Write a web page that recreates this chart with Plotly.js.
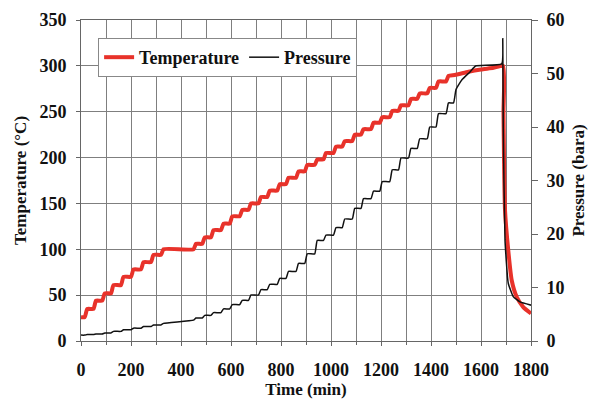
<!DOCTYPE html>
<html>
<head>
<meta charset="utf-8">
<script src="https://cdn.plot.ly/plotly-3.0.1.min.js"></script>
<style>html,body{margin:0;padding:0;background:#fff;}#chart{width:593px;height:401px;}</style>
</head>
<body>
<div id="chart"></div>
<script>
// Temperature (°C) vs time (min) (staircase knees)
var tempTime = [0,15,25,50,60,85,95,120,130,160,170,200,210,240,250,280,290,320,330,450,
  460,485,495,520,530,560,570,595,605,635,645,670,680,710,720,745,755,785,795,820,830,860,
  870,895,905,935,945,970,980,1010,1020,1045,1055,1085,1095,1120,1130,1160,1170,1195,1205,1235,
  1245,1270,1280,1310,1320,1345,1355,1385,1395,1420,1430,1460,1470,1495,1550,1600,1650,1688,
  1690,1692,1696,1709,1723,1743,1769,1800];
var tempValue = [26,26,35,35,44,44,52,52,61,61,70,70,78,78,86,86,94,94,100,100,
  106,106,113,113,121,121,128,128,136,136,143,143,150,150,157,157,164,164,171,171,178,178,
  185,185,192,192,198,198,205,205,212,212,218,218,225,225,231,231,238,238,244,244,
  251,251,257,257,264,264,270,270,276,276,283,283,289,290,293.5,296,298,300,
  250,200,143,99,66,48,37,30];

// Pressure (bara) vs time (min)
var presTime = [0,15,25,50,60,85,95,120,130,160,170,200,210,240,250,280,290,320,330,450,
  460,485,495,520,530,560,570,595,605,635,645,670,680,710,720,745,755,785,795,820,830,860,
  870,895,905,935,945,970,980,1010,1020,1045,1055,1085,1095,1120,1130,1160,1170,1195,1205,1235,
  1245,1270,1280,1310,1320,1345,1355,1385,1395,1420,1430,1460,1470,1490,1500,1523,1556,1578,1683,
  1687,1689,1696,1709,1729,1756,1800];
var presValue = [1.1,1.1,1.2,1.2,1.3,1.3,1.5,1.5,1.8,1.8,2.1,2.1,2.4,2.4,2.7,2.7,3.0,3.0,3.3,3.9,
  4.3,4.3,4.8,4.8,5.3,5.3,6.0,6.0,6.8,6.8,7.6,7.6,8.6,8.6,9.6,9.6,10.6,10.6,11.7,11.7,13.0,13.0,
  14.5,14.5,16.3,16.3,18.8,18.8,19.8,19.8,21.2,21.2,22.8,22.8,24.8,24.8,26.6,26.6,28.0,28.0,29.8,29.8,
  32.0,32.0,34.2,34.2,36.0,36.0,37.8,37.8,40.0,40.0,42.5,42.5,44.5,44.5,47.0,48.8,50.3,51.4,51.8,
  56.5,40,18.9,10.8,8.3,7.3,6.7];

var xTicks = [0,200,400,600,800,1000,1200,1400,1600,1800];

var font = 'Liberation Serif, Times New Roman, serif';
var traces = [
  {x: tempTime, y: tempValue, type: 'scatter', mode: 'lines', name: 'Temperature',
   line: {color: '#e8322a', width: 4, shape: 'spline', smoothing: 0.5}, yaxis: 'y'},
  {x: presTime, y: presValue, type: 'scatter', mode: 'lines', name: 'Pressure',
   line: {color: '#111111', width: 1.5, shape: 'spline', smoothing: 0.4}, yaxis: 'y2'}
];
var layout = {
  width: 593, height: 401,
  margin: {l: 81, r: 62, t: 20, b: 60},
  paper_bgcolor: '#fff', plot_bgcolor: '#fff',
  font: {family: font, size: 18, color: '#111'},
  showlegend: true,
  legend: {orientation: 'h', x: 0.038, y: 0.944, xanchor: 'left', yanchor: 'top',
    bgcolor: '#fff', bordercolor: '#888', borderwidth: 1,
    font: {family: font, size: 18, weight: 'bold', color: '#111'}},
  xaxis: {range: [0, 1800], tickvals: xTicks, ticktext: xTicks.map(String),
    showgrid: true, gridcolor: '#7f7f7f', gridwidth: 1,
    minor: {dtick: 100, tick0: 0, showgrid: true, gridcolor: '#7f7f7f', gridwidth: 1, ticks: 'outside', ticklen: 3, tickcolor: '#666'},
    ticks: 'outside', ticklen: 4, tickcolor: '#666', ticklabelstandoff: 8,
    showline: true, linecolor: '#666', linewidth: 1, mirror: true, zeroline: false,
    tickfont: {family: font, size: 18, weight: 'bold'},
    title: {text: 'Time (min)', font: {family: font, size: 17, weight: 'bold'}, standoff: 4}},
  yaxis: {range: [0, 350], dtick: 50, tick0: 0,
    showgrid: true, gridcolor: '#7f7f7f', gridwidth: 1,
    ticks: 'outside', ticklen: 4, tickcolor: '#666', ticklabelstandoff: 6,
    showline: true, linecolor: '#666', linewidth: 1, zeroline: false,
    tickfont: {family: font, size: 18, weight: 'bold'},
    title: {text: 'Temperature (°C)', font: {family: font, size: 17, weight: 'bold'}, standoff: 8}},
  yaxis2: {range: [0, 60], dtick: 10, tick0: 0, overlaying: 'y', side: 'right',
    showgrid: false, ticks: 'outside', ticklen: 6, tickcolor: '#666', ticklabelstandoff: 5,
    showline: true, linecolor: '#666', linewidth: 1, zeroline: false,
    tickfont: {family: font, size: 18, weight: 'bold'},
    title: {text: 'Pressure (bara)', font: {family: font, size: 17, weight: 'bold'}, standoff: 8}}
};
Plotly.newPlot('chart', traces, layout, {displayModeBar: false, staticPlot: true});
</script>
</body>
</html>
